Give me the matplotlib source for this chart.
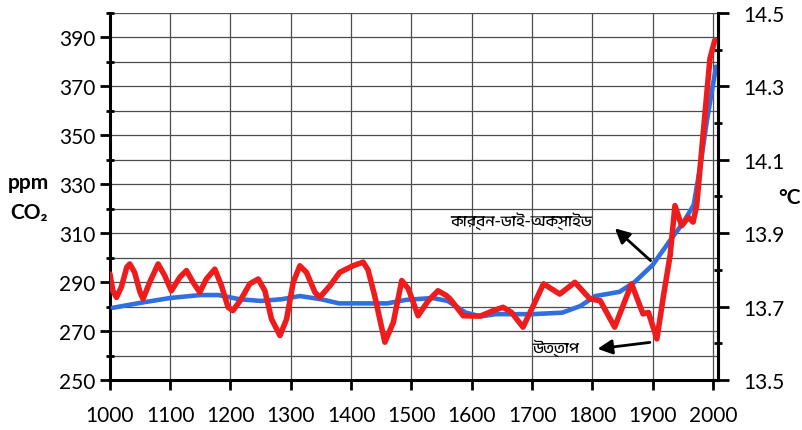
import numpy as np
import matplotlib
matplotlib.use("Agg")
from matplotlib import pyplot as plt
import matplotlib.font_manager as fm

# CO2 (ppm, left axis) ------------------------------------------------------
co2_years = [1005, 1050, 1100, 1150, 1180, 1215, 1250, 1285, 1315, 1350, 1380,
             1430, 1460, 1490, 1535, 1560, 1590, 1615, 1640, 1700, 1750, 1780,
             1805, 1845, 1870, 1900, 1930, 1950, 1968, 1978, 1990, 2000, 2005]
co2_ppm = [279.5, 281.5, 283.5, 284.7, 284.7, 283.0, 282.3, 283.0, 284.3, 283.0, 281.3,
           281.3, 281.3, 282.7, 283.5, 282.3, 277.5, 276.0, 276.9, 276.9, 277.5, 280.2,
           284.3, 286.0, 290.0, 297.0, 307.4, 314.0, 321.5, 336.0, 356.0, 370.5, 378.0]

# Temperature (deg C, right axis) -------------------------------------------
temp_years = [1000, 1005, 1011, 1019, 1028, 1033, 1041, 1050, 1055, 1066, 1080, 1091,
              1102, 1116, 1127, 1138, 1149, 1160, 1174, 1185, 1196, 1204, 1216, 1232,
              1246, 1257, 1268, 1282, 1293, 1304, 1315, 1326, 1340, 1348, 1365, 1381,
              1403, 1420, 1428, 1439, 1456, 1470, 1484, 1495, 1511, 1528, 1544, 1558,
              1564, 1586, 1614, 1636, 1652, 1666, 1685, 1702, 1719, 1746, 1771, 1796,
              1813, 1837, 1865, 1884, 1893, 1907, 1918, 1929, 1937, 1948, 1959, 1967,
              1973, 1984, 1992, 1995, 2003]
temp_c = [13.789, 13.743, 13.725, 13.753, 13.807, 13.816, 13.793, 13.739, 13.721, 13.766,
          13.816, 13.784, 13.743, 13.780, 13.798, 13.766, 13.739, 13.775, 13.802, 13.757,
          13.698, 13.689, 13.716, 13.762, 13.775, 13.743, 13.666, 13.621, 13.666, 13.766,
          13.811, 13.793, 13.739, 13.725, 13.757, 13.793, 13.811, 13.821, 13.800, 13.730,
          13.603, 13.657, 13.771, 13.748, 13.675, 13.716, 13.743, 13.730, 13.721, 13.675,
          13.674, 13.689, 13.698, 13.684, 13.644, 13.702, 13.762, 13.734, 13.766, 13.721,
          13.716, 13.644, 13.762, 13.680, 13.684, 13.612, 13.730, 13.840, 13.975, 13.920,
          13.943, 13.930, 13.975, 14.175, 14.320, 14.375, 14.425]

x_ticks = list(range(1000, 2001, 100))
left_ticks = list(range(250, 391, 20))
right_ticks = [13.5, 13.7, 13.9, 14.1, 14.3, 14.5]

label_co2 = "কার্বন-ডাই-অক্সাইড"
label_temp = "উত্তাপ"

# font for Bengali text, if one is around
bn_family = ["DejaVu Sans"]
for f in fm.fontManager.ttflist:
    if "Bengali" in f.name or "Lohit" in f.name or "Bangla" in f.name:
        bn_family = [f.name, "DejaVu Sans"]
        break

plt.rcParams['font.family'] = ['Lato', 'DejaVu Sans']

fig = plt.figure(figsize=(8.02, 4.31), dpi=100)
ax = fig.add_axes([0.137, 0.116, 0.758, 0.852])

ax.plot(co2_years, co2_ppm, color='#2f6fe0', lw=3.3, solid_capstyle='round', zorder=3)
ax.set_xlim(1000, 2008)
ax.set_ylim(250, 400)
ax.set_xticks(x_ticks)
ax.set_yticks(left_ticks)
ax.set_yticks(list(range(260, 401, 20)), minor=True)
ax.set_xticks(list(range(1100, 2001, 100)), minor=True)
ax.grid(True, which='both', color='#4d4d4d', lw=0.9)
ax.set_axisbelow(True)

for s in ['left', 'bottom', 'right']:
    ax.spines[s].set_linewidth(2.2)
ax.spines['top'].set_visible(False)
ax.tick_params(axis='both', which='major', labelsize=15, width=2, length=7)
ax.tick_params(axis='y', which='minor', width=2, length=6, direction='inout')
ax.tick_params(axis='x', which='minor', length=0)
ax.tick_params(axis='x', pad=11)

ax2 = ax.twinx()
ax2.plot(temp_years, temp_c, color='#ee1c1c', lw=4.0, solid_capstyle='round',
         solid_joinstyle='round', zorder=4)
ax2.set_ylim(13.5, 14.5)
ax2.set_yticks(right_ticks)
ax2.set_yticklabels([f"{v:.1f}" for v in right_ticks])
ax2.set_yticks([13.6, 13.8, 14.0, 14.2, 14.4], minor=True)
ax2.spines['right'].set_linewidth(2.2)
ax2.spines['top'].set_visible(False)
ax2.spines['left'].set_visible(False)
ax2.spines['bottom'].set_visible(False)
ax2.tick_params(axis='y', which='major', labelsize=15, width=2, length=8, pad=10)
ax2.tick_params(axis='y', which='minor', width=2, length=6, direction='inout')

# axis titles
fig.text(0.036, 0.575, "ppm", fontsize=15, fontweight='bold', ha='center', va='center')
fig.text(0.036, 0.505, "CO₂", fontsize=15, fontweight='bold', ha='center', va='center',
         family=['Lato', 'DejaVu Sans'])
fig.text(0.985, 0.54, "°C", fontsize=15, fontweight='bold', ha='center', va='center')

# annotations with arrows
ax.annotate("", xy=(1834, 312.7), xytext=(1900, 298),
            arrowprops=dict(arrowstyle='-|>', color='black', lw=2, mutation_scale=22))
ax.text(1799, 315.5, label_co2, fontsize=11, ha='right', va='center', family=bn_family)

ax.annotate("", xy=(1804, 262.6), xytext=(1900, 265.5),
            arrowprops=dict(arrowstyle='-|>', color='black', lw=2, mutation_scale=22))
ax.text(1701, 263.4, label_temp, fontsize=11, ha='left', va='center', family=bn_family)

plt.savefig("out.png", dpi=100)
